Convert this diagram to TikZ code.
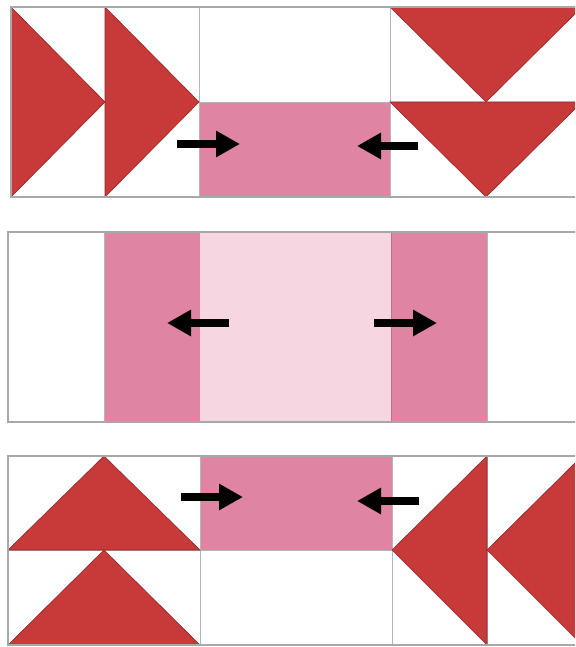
\documentclass[tikz,border=0pt]{standalone}
\usepackage{tikz}
\usetikzlibrary{arrows.meta}

\definecolor{quiltred}{HTML}{C8393A}
\definecolor{quiltpink}{HTML}{E084A3}
\definecolor{quiltblush}{HTML}{F6D7E1}
\definecolor{gridgray}{HTML}{A8A8A8}

\tikzset{
  tri/.style={fill=quiltred, draw=quiltred!70!black, line width=0.6pt},
  patch/.style={draw=quiltpink!85!black, line width=0.5pt},
  seam/.style={draw=gridgray!85, line width=0.8pt},
  frame/.style={draw=gridgray, line width=2.4pt},
  pushar/.style={-{Triangle[length=24pt,width=25pt]}, line width=8.5pt, black}
}

\begin{document}
\begin{tikzpicture}[x=1pt, y=-1pt]
    \useasboundingbox (0,0) rectangle (575,647);
    \clip (0,0) rectangle (575,647);
    \fill[white] (0,0) rectangle (575,647);

    % top strip: flying geese pointing in
    \fill[quiltpink, patch] (199,102) rectangle (390,197);
    \draw[seam] (105,7) -- (105,197);
    \draw[seam] (199,7) -- (199,197);
    \draw[seam] (390,7) -- (390,197);
    \draw[seam] (199,102) -- (590,102);
    \draw[tri] (11,7)   -- (11,197)  -- (105,102) -- cycle;
    \draw[tri] (105,7)  -- (105,197) -- (199,102) -- cycle;
    \draw[tri] (390,7)  -- (582,7)   -- (486,102) -- cycle;
    \draw[tri] (390,102) -- (582,102) -- (486,197) -- cycle;
    \draw[frame] (11,7) rectangle (595,197);
    \draw[pushar] (177,144) -- (240,144);
    \draw[pushar] (418,146) -- (357,146);

    % middle strip: centre pushed out
    \fill[quiltpink, patch]  (104,232) rectangle (200,422);
    \fill[quiltblush]        (200,232) rectangle (391,422);
    \fill[quiltpink, patch]  (391,232) rectangle (487,422);
    \draw[seam] (104,232) -- (104,422);
    \draw[seam] (487,232) -- (487,422);
    \draw[frame] (8,232) rectangle (595,422);
    \draw[pushar] (229,323) -- (167,323);
    \draw[pushar] (374,323) -- (437,323);

    % bottom strip: geese pointing up and left
    \fill[quiltpink, patch] (200,456) rectangle (392,550);
    \draw[seam] (200,456) -- (200,645);
    \draw[seam] (392,456) -- (392,645);
    \draw[seam] (487,456) -- (487,645);
    \draw[seam] (8,550) -- (392,550);
    \draw[tri] (8,550)  -- (200,550) -- (104,456) -- cycle;
    \draw[tri] (8,645)  -- (200,645) -- (104,550) -- cycle;
    \draw[tri] (487,456) -- (487,645) -- (392,550) -- cycle;
    \draw[tri] (582,456) -- (582,645) -- (487,550) -- cycle;
    \draw[frame] (8,456) rectangle (595,645);
    \draw[pushar] (181,497) -- (243,497);
    \draw[pushar] (419,501) -- (357,501);
\end{tikzpicture}
\end{document}
